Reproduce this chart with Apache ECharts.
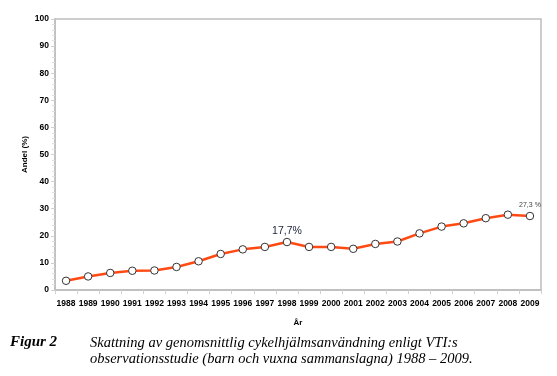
<!DOCTYPE html>
<html>
<head>
<meta charset="utf-8">
<script src="https://cdn.jsdelivr.net/npm/echarts@6/dist/echarts.min.js"></script>
<style>
  html, body { margin: 0; padding: 0; background: #fff; }
  #chart { width: 557px; height: 376px; }
</style>
</head>
<body>
<div id="chart"></div>
<script>
  // år och andel (%)
  var years = ['1988', '1989', '1990', '1991', '1992', '1993', '1994', '1995', '1996', '1997', '1998',
    '1999', '2000', '2001', '2002', '2003', '2004', '2005', '2006', '2007', '2008', '2009'];
  var andel = [3.4, 5.0, 6.3, 7.1, 7.2, 8.5, 10.6, 13.3, 15.0, 15.9, 17.7,
    15.9, 15.9, 15.2, 17.0, 17.9, 20.9, 23.4, 24.6, 26.5, 27.8, 27.3];
  var yTicks = [0, 10, 20, 30, 40, 50, 60, 70, 80, 90, 100];

  var chart = echarts.init(document.getElementById('chart'));

  // punkter med etikett
  var seriesData = andel.map(function (v, i) {
    if (years[i] === '1998') {
      return { value: v, label: { show: true, position: 'top', distance: 1, formatter: '17,7%',
        fontSize: 10.5, color: '#1a2238', fontFamily: 'Liberation Sans, Arial, sans-serif' } };
    }
    if (years[i] === '2009') {
      return { value: v, label: { show: true, position: 'top', distance: 3, formatter: '27,3 %',
        fontSize: 7, color: '#444', fontFamily: 'Liberation Sans, Arial, sans-serif' } };
    }
    return v;
  });

  var option = {
    animation: false,
    grid: {
      left: 55, top: 19, width: 486, height: 271,
      show: true, borderColor: '#bdbdbd', borderWidth: 1.5
    },
    xAxis: {
      type: 'category',
      data: years,
      boundaryGap: true,
      name: 'År',
      nameLocation: 'middle',
      nameGap: 29,
      nameTextStyle: { fontSize: 8, fontWeight: 'bold', color: '#000', fontFamily: 'Liberation Sans, Arial, sans-serif' },
      axisLine: { lineStyle: { color: '#bdbdbd', width: 1.5 } },
      axisTick: { show: true, alignWithLabel: false, length: 4, lineStyle: { color: '#d0d0d0' } },
      axisLabel: { fontSize: 8.5, fontWeight: 'bold', color: '#000', margin: 9, interval: 0,
        fontFamily: 'Liberation Sans, Arial, sans-serif' },
      splitLine: { show: false }
    },
    yAxis: {
      type: 'value',
      min: yTicks[0],
      max: yTicks[yTicks.length - 1],
      interval: 10,
      name: 'Andel (%)',
      nameLocation: 'middle',
      nameGap: 26,
      nameMoveOverlap: false,
      nameRotate: 90,
      nameTextStyle: { fontSize: 8, fontWeight: 'bold', color: '#000', fontFamily: 'Liberation Sans, Arial, sans-serif' },
      axisLine: { show: true, lineStyle: { color: '#bdbdbd', width: 1.5 } },
      axisTick: { show: true, length: 4, lineStyle: { color: '#d0d0d0' } },
      minorTick: { show: true, splitNumber: 5, length: 3, lineStyle: { color: '#e0e0e0' } },
      axisLabel: { fontSize: 8.5, fontWeight: 'bold', color: '#000', margin: 6,
        fontFamily: 'Liberation Sans, Arial, sans-serif' },
      splitLine: { show: false }
    },
    series: [{
      type: 'line',
      data: seriesData,
      symbol: 'circle',
      symbolSize: 7.5,
      lineStyle: { color: '#ff4a14', width: 2.5 },
      itemStyle: { color: '#fff', borderColor: '#333', borderWidth: 1 }
    }],
    graphic: [
      { type: 'text', left: 10, top: 335,
        style: { text: 'Figur 2', font: 'italic bold 15px "Liberation Serif", "Times New Roman", serif', fill: '#000' } },
      { type: 'text', left: 90, top: 335,
        style: { text: 'Skattning av genomsnittlig cykelhjälmsanvändning enligt VTI:s\nobservationsstudie (barn och vuxna sammanslagna) 1988 – 2009.',
          font: 'italic 14.5px "Liberation Serif", "Times New Roman", serif', lineHeight: 16, fill: '#000' } }
    ]
  };

  chart.setOption(option);
</script>
</body>
</html>
